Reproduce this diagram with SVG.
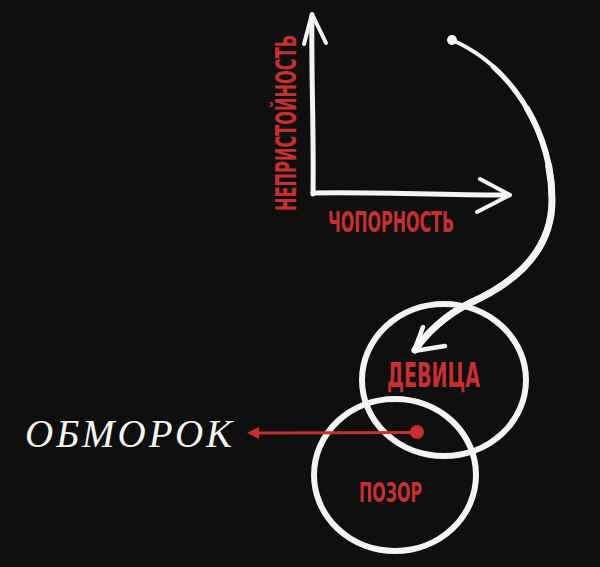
<svg xmlns="http://www.w3.org/2000/svg" width="600" height="567" viewBox="0 0 600 567">
<defs>
<style>
.chalk{fill:none;stroke:#f4f4f2;stroke-linecap:round;stroke-linejoin:round}
.lbl{font-family:"DejaVu Sans Condensed","DejaVu Sans",sans-serif;font-weight:bold;font-stretch:condensed;fill:#c8302f}
.red{stroke:#c8302f;fill:none}
</style>
<path id="curve" d="M452,40 C510,65 552,130 552,200 C552,255 510,285 470,303 C445,315 425,335 415,350"/>
</defs>
<rect x="0" y="0" width="600" height="567" fill="#0f0f0f"/>
<g id="axis-y">
<path class="chalk" stroke-width="5" d="M312,15 C311,70 314,130 313,194"/>
<path class="chalk" stroke-width="4" d="M304,44 L312,14 L326,43"/>
<text class="lbl" font-size="29" transform="translate(296,211) rotate(-90)" textLength="176" lengthAdjust="spacingAndGlyphs">НЕПРИСТОЙНОСТЬ</text>
</g>
<g id="axis-x">
<path class="chalk" stroke-width="5" d="M313,193 C380,192 450,195 509,195"/>
<path class="chalk" stroke-width="4" d="M480,179 L510,195 L477,212"/>
<text class="lbl" font-size="27.5" x="328" y="232" textLength="126" lengthAdjust="spacingAndGlyphs">ЧОПОРНОСТЬ</text>
</g>
<g id="node-devitsa">
<ellipse class="chalk" stroke-width="6" cx="444" cy="380" rx="82" ry="76"/>
<text class="lbl" font-size="33" x="387" y="387" textLength="93" lengthAdjust="spacingAndGlyphs">ДЕВИЦА</text>
</g>
<g id="node-pozor">
<ellipse class="chalk" stroke-width="6" cx="395" cy="475" rx="81" ry="76"/>
<text class="lbl" font-size="27" x="359" y="502" textLength="63" lengthAdjust="spacingAndGlyphs">ПОЗОР</text>
</g>
<g id="node-obmorok">
<text x="25" y="447" font-family="'Liberation Serif','Times New Roman',serif" font-style="italic" font-size="39" fill="#f4f4f2" textLength="207" lengthAdjust="spacing">ОБМОРОК</text>
</g>
<g id="connectors">
<circle cx="452" cy="40" r="5" fill="#f4f4f2"/>
<path class="chalk" stroke-width="4" pathLength="100" d="M452,40 C510,65 552,130 552,200 C552,255 510,285 470,303 C445,315 425,335 415,350"/>
<path class="chalk" stroke-width="5" pathLength="100" stroke-dasharray="0 12 100" d="M452,40 C510,65 552,130 552,200 C552,255 510,285 470,303 C445,315 425,335 415,350"/>
<path class="chalk" stroke-width="6" pathLength="100" stroke-dasharray="0 25 100" d="M452,40 C510,65 552,130 552,200 C552,255 510,285 470,303 C445,315 425,335 415,350"/>
<path class="chalk" stroke-width="7" pathLength="100" stroke-dasharray="0 40 100" d="M452,40 C510,65 552,130 552,200 C552,255 510,285 470,303 C445,315 425,335 415,350"/>
<path class="chalk" stroke-width="4.5" d="M423,327 L414,351 L445,346"/>
<path class="red" stroke-width="3" d="M417,432.5 L256,433"/>
<polygon points="247,433 259,427 259,439" fill="#c8302f"/>
<circle cx="417" cy="432" r="7" fill="#c8302f"/>
</g>
</svg>
